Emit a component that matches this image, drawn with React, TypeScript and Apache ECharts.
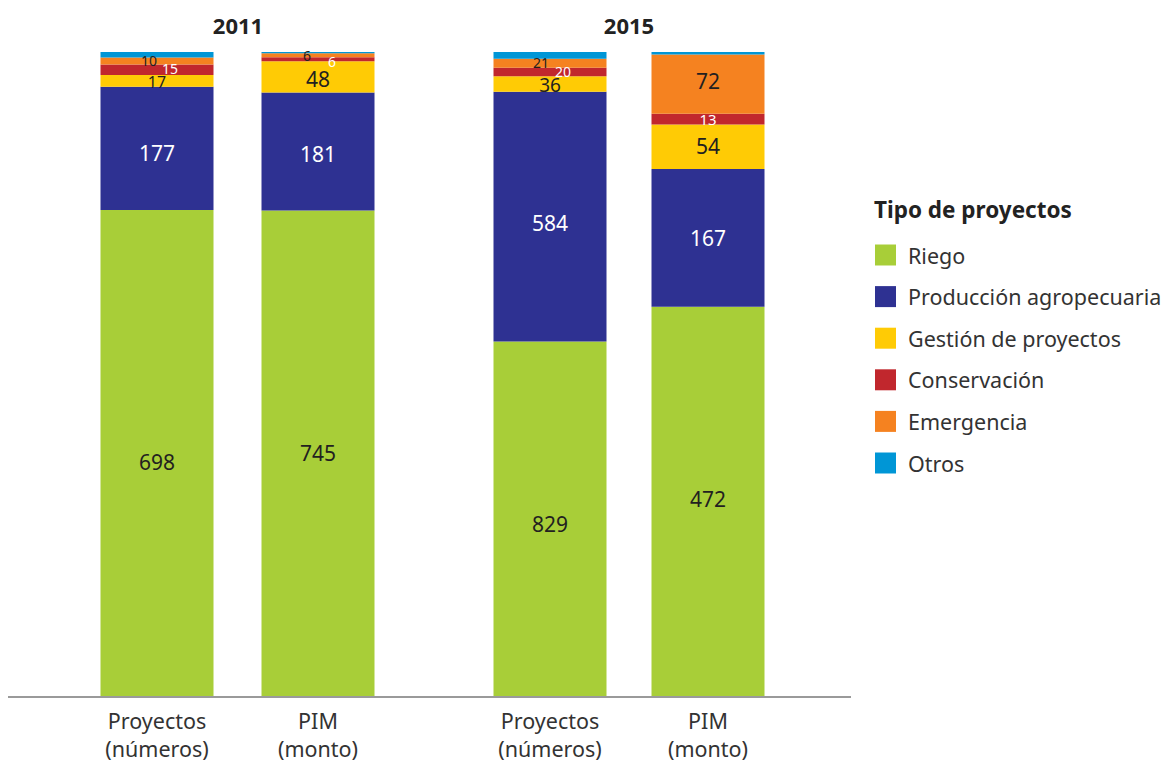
import React, { useEffect, useRef } from "react";
import * as echarts from "echarts";

const years = ["2011", "2015"];
const categories = ["Proyectos\n(números)", "PIM\n(monto)"];
const typeNames = [
  "Riego",
  "Producción agropecuaria",
  "Gestión de proyectos",
  "Conservación",
  "Emergencia",
  "Otros",
];
// values per bar: [2011 Proyectos, 2011 PIM, 2015 Proyectos, 2015 PIM]
const riego = [698, 745, 829, 472];
const produccion = [177, 181, 584, 167];
const gestion = [17, 48, 36, 54];
const conservacion = [15, 6, 20, 13];
const emergencia = [10, 6, 21, 72];
const otros = [8, 2, 16, 3];

const colors = ["#A8CE38", "#2E3192", "#FFCB05", "#C1272D", "#F58220", "#0096D6"];
const labelColors = ["#231F20", "#ffffff", "#231F20", "#ffffff", "#231F20", "#231F20"];
const FONT = "'Noto Sans', sans-serif";

// label position tweaks (per type, per bar) in pixels
const labelOffsets: Record<number, Record<number, [number, number]>> = {
  0: { 0: [0, 9], 1: [0, 0], 2: [0, 5], 3: [0, -2] },
  1: { 0: [0, 5], 1: [0, 3], 2: [0, 6], 3: [0, 0] },
  2: { 0: [0, 1], 1: [0, 2], 2: [0, 1], 3: [0, -1] },
  3: { 0: [13, -1], 1: [14, 2], 2: [13, -1], 3: [0, 0] },
  4: { 0: [-8, -1], 1: [-11, 0], 2: [-9, -1], 3: [0, -3] },
};
// label font sizes (per type, per bar)
const labelSizes: Record<number, Record<number, number>> = {
  2: { 0: 16, 2: 19 },
  3: { 0: 14, 1: 14, 2: 14, 3: 15 },
  4: { 0: 14, 1: 14, 2: 14 },
};

export default function App() {
  const ref = useRef<HTMLDivElement>(null);
  useEffect(() => {
    if (!ref.current) return;
    const chart = echarts.init(ref.current, undefined, { renderer: "svg" });
    const all = [riego, produccion, gestion, conservacion, emergencia, otros];
    const totals = riego.map((_, i) => all.reduce((s, arr) => s + arr[i], 0));

    const series: any[] = [];
    years.forEach((_, g) => {
      all.forEach((arr, t) => {
        series.push({
          name: typeNames[t],
          type: "bar",
          stack: "s" + g,
          xAxisIndex: g,
          yAxisIndex: g,
          barWidth: 113,
          itemStyle: { color: colors[t] },
          emphasis: { disabled: true },
          data: [0, 1].map((c) => {
            const idx = g * 2 + c;
            const v = arr[idx];
            const item: any = { value: (v / totals[idx]) * 100 };
            if (t === 5) {
              item.label = { show: false };
            } else {
              item.label = {
                show: true,
                position: "inside",
                formatter: String(v),
                color: labelColors[t],
                fontSize: (labelSizes[t] && labelSizes[t][idx]) || 21,
                fontFamily: FONT,
                offset: (labelOffsets[t] && labelOffsets[t][idx]) || [0, 0],
              };
            }
            return item;
          }),
        });
      });
    });

    const grids = [
      { left: 76.5, width: 322, top: 52, bottom: 65 },
      { left: 471, width: 316, top: 52, bottom: 65 },
    ];

    chart.setOption({
      animation: false,
      textStyle: { fontFamily: FONT },
      grid: grids,
      xAxis: grids.map((_, i) => ({
        type: "category",
        gridIndex: i,
        data: categories,
        axisLine: { show: false },
        axisTick: { show: false },
        axisLabel: {
          fontSize: 21.5,
          color: "#333333",
          lineHeight: 28,
          margin: 10,
          fontFamily: FONT,
        },
      })),
      yAxis: grids.map((_, i) => ({
        type: "value",
        gridIndex: i,
        min: 0,
        max: 100,
        show: false,
        splitLine: { show: false },
      })),
      title: {
        text: "Tipo de proyectos",
        left: 874,
        top: 198,
        padding: 0,
        textStyle: { fontSize: 22.5, fontWeight: "bold", color: "#222222", fontFamily: FONT },
      },
      legend: {
        data: typeNames,
        orient: "vertical",
        left: 875,
        top: 244,
        padding: 0,
        itemWidth: 21,
        itemHeight: 21,
        itemGap: 19.6,
        icon: "rect",
        selectedMode: false,
        textStyle: {
          fontSize: 21.5,
          color: "#333333",
          fontFamily: FONT,
          lineHeight: 21,
          padding: [0, 0, 0, 7],
        },
      },
      graphic: [
        {
          type: "line",
          shape: { x1: 8, y1: 697, x2: 851, y2: 697 },
          style: { stroke: "#9a9a9a", lineWidth: 2 },
          z: 10,
        },
        {
          type: "text",
          x: 238,
          y: 25,
          style: {
            text: years[0],
            align: "center",
            verticalAlign: "middle",
            font: "bold 22px 'Noto Sans', sans-serif",
            fill: "#222222",
          },
        },
        {
          type: "text",
          x: 629,
          y: 25,
          style: {
            text: years[1],
            align: "center",
            verticalAlign: "middle",
            font: "bold 22px 'Noto Sans', sans-serif",
            fill: "#222222",
          },
        },
      ],
      series,
    });
    return () => chart.dispose();
  }, []);
  return (
    <div
      ref={ref}
      style={{ position: "fixed", left: 0, top: 0, width: 1163, height: 762, background: "#fff" }}
    />
  );
}
